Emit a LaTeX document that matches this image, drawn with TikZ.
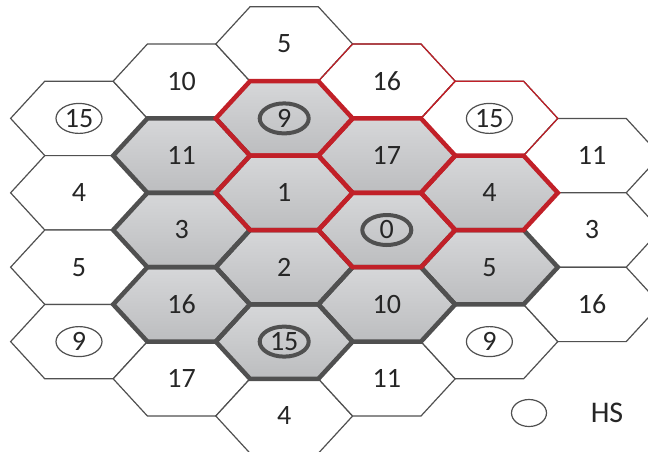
\documentclass[tikz,border=0pt]{standalone}
\usepackage{fontspec}
\setmainfont{Carlito}
\usetikzlibrary{shapes.geometric}
\definecolor{edgegray}{RGB}{80,80,80}
\definecolor{pathred}{RGB}{193,32,40}
\definecolor{celltop}{RGB}{214,215,217}
\definecolor{cellbottom}{RGB}{188,189,191}

\newcommand\hexcell[1]{(#1) ++(-68.4,0) -- ++(34.2,-37.2) -- ++(68.4,0) -- ++(34.2,37.2) -- ++(-34.2,37.2) -- ++(-68.4,0) -- cycle}

\begin{document}
\begin{tikzpicture}[x=1pt, y=-1pt,
    whitecell/.style={fill=white, draw=edgegray, line width=1.2pt},
    redthin/.style={draw=pathred, line width=1.2pt},
    graycell/.style={top color=celltop, bottom color=cellbottom},
    grayedge/.style={draw=edgegray, line width=4.5pt},
    rededge/.style={draw=pathred, line width=4.5pt},
    num/.style={font=\fontsize{28}{32}\selectfont, text=black!85},
    hsmark/.style={num, ellipse, draw=edgegray, line width=1.2pt, minimum width=46pt, minimum height=30pt, inner sep=0pt},
    bsmark/.style={num, ellipse, draw=edgegray, line width=4pt, minimum width=49pt, minimum height=30pt, inner sep=0pt}]

    \useasboundingbox (0,0) rectangle (648,451);
    \clip (0,0) rectangle (648,451);

    % cell centres
    \foreach \c in {0,...,5}
        \foreach \j in {0,...,10}
            \coordinate (h-\c-\j) at ({79+102.6*\c},{44+37.2*\j});

    % plain cells
    \foreach \c/\j in {0/2,0/4,0/6,0/8,1/1,1/9,2/0,2/10,3/1,3/9,4/2,4/8,5/3,5/5,5/7}
        \draw[whitecell] \hexcell{h-\c-\j};
    \foreach \c/\j in {3/1,4/2}
        \draw[redthin] \hexcell{h-\c-\j};

    % shaded cells
    \foreach \c/\j in {1/3,1/5,1/7,2/2,2/4,2/6,2/8,3/3,3/5,3/7,4/4,4/6}
        \path[graycell] \hexcell{h-\c-\j};
    \foreach \c/\j in {1/3,1/5,1/7,2/6,2/8,3/7,4/6}
        \draw[grayedge] \hexcell{h-\c-\j};
    \foreach \c/\j in {2/2,2/4,3/3,3/5,4/4}
        \draw[rededge] \hexcell{h-\c-\j};

    % labels
    \foreach \c/\j/\t in {0/4/4,0/6/5,1/1/10,1/3/11,1/5/3,1/7/16,1/9/17,2/0/5,2/4/1,2/6/2,2/10/4,3/1/16,3/3/17,3/7/10,3/9/11,4/4/4,4/6/5,5/3/11,5/5/3,5/7/16}
        \node[num] (n-\c-\j) at (h-\c-\j) {\t};
    \foreach \c/\j/\t in {0/2/15,0/8/9,4/2/15,4/8/9}
        \node[hsmark] (n-\c-\j) at (h-\c-\j) {\t};
    \foreach \c/\j/\t in {2/2/9,3/5/0,2/8/15}
        \node[bsmark] (n-\c-\j) at (h-\c-\j) {\t};

    % legend
    \node[hsmark, minimum width=35pt, minimum height=27pt] (key) at (529,413) {};
    \node[num, font=\fontsize{30}{34}\selectfont] (keytext) at (607,413) {HS};
\end{tikzpicture}
\end{document}
